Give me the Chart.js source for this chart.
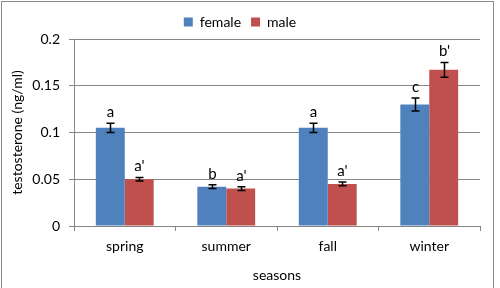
<!DOCTYPE html>
<html>
<head>
<meta charset="utf-8">
<script src="https://cdn.jsdelivr.net/npm/chart.js@4/dist/chart.umd.min.js"></script>
<style>
  body { margin: 0; background: #fff; }
  #wrap { width: 500px; height: 288px; position: relative; }
</style>
</head>
<body>
<div id="wrap"><canvas id="chart" width="500" height="288"></canvas></div>
<script>
// data
const seasons = ['spring', 'summer', 'fall', 'winter'];
const femaleValues = [0.105, 0.042, 0.105, 0.130];
const maleValues = [0.050, 0.040, 0.045, 0.167];
const femaleErrors = [0.005, 0.002, 0.005, 0.007];
const maleErrors = [0.002, 0.002, 0.002, 0.008];
const femaleLetters = ['a', 'b', 'a', 'c'];
const maleLetters = ["a'", "a'", "a'", "b'"];
const yTicks = [0, 0.05, 0.1, 0.15, 0.2];

const FONT = 'Lato, "Open Sans", sans-serif';
const gridGray = '#868686';

// error bars + significance letters
const errorBarPlugin = {
    id: 'errorBars',
    afterDatasetsDraw(chart) {
        const ctx = chart.ctx;
        const yScale = chart.scales.y;
        const errs = [femaleErrors, maleErrors];
        const letters = [femaleLetters, maleLetters];
        ctx.save();
        chart.data.datasets.forEach((ds, di) => {
            const meta = chart.getDatasetMeta(di);
            meta.data.forEach((bar, i) => {
                const v = ds.data[i];
                const x = Math.round(bar.x) + 0.5;
                const yTop = yScale.getPixelForValue(v + errs[di][i]);
                const yBot = yScale.getPixelForValue(v - errs[di][i]);
                ctx.strokeStyle = '#000';
                ctx.lineWidth = 1.5;
                ctx.beginPath();
                ctx.moveTo(x, yTop); ctx.lineTo(x, yBot);
                ctx.moveTo(x - 4, yTop); ctx.lineTo(x + 4, yTop);
                ctx.moveTo(x - 4, yBot); ctx.lineTo(x + 4, yBot);
                ctx.stroke();
                ctx.fillStyle = '#000';
                ctx.font = '15px ' + FONT;
                ctx.textAlign = 'center';
                ctx.textBaseline = 'alphabetic';
                ctx.fillText(letters[di][i], x, yTop - 6);
            });
        });
        ctx.restore();
    }
};

// gray frame round the whole chart
const framePlugin = {
    id: 'frame',
    beforeDraw(chart) {
        const ctx = chart.ctx;
        ctx.save();
        ctx.fillStyle = '#fff';
        ctx.fillRect(0, 0, chart.width, chart.height);
        ctx.strokeStyle = '#8c8c8c';
        ctx.lineWidth = 1;
        ctx.strokeRect(1.5, 1.5, 492, 300);
        ctx.restore();
    }
};

new Chart(document.getElementById('chart').getContext('2d'), {
    type: 'bar',
    data: {
        labels: seasons,
        datasets: [
            { label: 'female', data: femaleValues, backgroundColor: '#4F81BD' },
            { label: 'male', data: maleValues, backgroundColor: '#C0504D' }
        ]
    },
    options: {
        responsive: false,
        animation: false,
        devicePixelRatio: 1,
        categoryPercentage: 0.57,
        barPercentage: 1,
        layout: { padding: { left: 0, right: 20, top: 5, bottom: 0 } },
        plugins: {
            legend: {
                position: 'top',
                labels: {
                    boxWidth: 9, boxHeight: 9, padding: 10,
                    color: '#000',
                    font: { family: FONT, size: 14 }
                }
            },
            tooltip: { enabled: false }
        },
        scales: {
            x: {
                grid: { drawOnChartArea: false, drawTicks: true, tickLength: 5, color: gridGray },
                border: { color: gridGray },
                ticks: { color: '#000', font: { family: FONT, size: 14 }, padding: 7 },
                title: { display: true, text: 'seasons', color: '#000', font: { family: FONT, size: 14 }, padding: { top: 3 } },
                afterFit: s => { s.height = 62; }
            },
            y: {
                min: 0, max: 0.2,
                afterBuildTicks: s => { s.ticks = yTicks.map(v => ({ value: v })); },
                grid: { color: gridGray, tickLength: 5 },
                border: { color: gridGray },
                ticks: {
                    color: '#000', font: { family: FONT, size: 14 }, padding: 9,
                    callback: v => String(+v.toFixed(2))
                },
                title: { display: true, text: 'testosterone (ng/ml)', color: '#000', font: { family: FONT, size: 14 }, padding: { top: 9, bottom: 4 } },
                afterFit: s => { s.width = 74; }
            }
        }
    },
    plugins: [framePlugin, errorBarPlugin]
});
</script>
</body>
</html>
